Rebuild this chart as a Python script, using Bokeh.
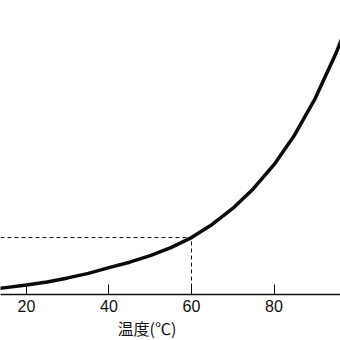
from bokeh.plotting import figure
from bokeh.models import Range1d, FixedTicker, Title
from bokeh.embed import file_html
from bokeh.resources import INLINE

# Data (temperature in °C, pressure in kPa)
temperature = [12, 15, 20, 25, 30, 35, 40, 45, 50, 55, 60, 65, 70, 75, 80, 85, 90, 95, 98]
pressure = [1.9, 2.4, 3.3, 4.4, 5.8, 7.4, 9.4, 11.3, 13.6, 16.4, 19.9, 24.5, 30.1, 37.0, 45.4, 55.8, 68.6, 84.3, 95.0]
x_ticks = [20, 40, 60, 80]
marker_temp = 60
marker_pressure = 19.9
x_label = "温度(℃)"

p = figure(width=340, height=340, output_backend="svg", toolbar_location=None,
           x_range=Range1d(13.70, 96.12), y_range=Range1d(0, 102.8),
           min_border_left=0, min_border_right=0, min_border_top=0, min_border_bottom=46)
p.background_fill_color = "white"
p.border_fill_color = "white"
p.outline_line_color = None
p.xgrid.visible = False
p.ygrid.visible = False
p.yaxis.visible = False

ax = p.xaxis[0]
ax.ticker = FixedTicker(ticks=x_ticks)
ax.axis_line_color = "#111111"
ax.axis_line_width = 1.5
ax.major_tick_in = 10
ax.major_tick_out = 0
ax.major_tick_line_color = "#111111"
ax.major_tick_line_width = 1
ax.minor_tick_line_color = None
ax.major_label_text_font = "Liberation Sans"
ax.major_label_text_font_size = "16px"
ax.major_label_text_color = "#111111"
ax.major_label_standoff = 5

# dashed guide lines
p.line([temperature[0], marker_temp], [marker_pressure, marker_pressure],
       line_color="#111111", line_width=1, line_dash="4 3")
p.line([marker_temp, marker_temp], [0, marker_pressure],
       line_color="#111111", line_width=1, line_dash="4 3")

# curve
p.line(temperature, pressure, line_color="#0a0a0a", line_width=3.5, line_join="round")

t = Title(text=x_label, align="left", offset=117, text_font="Noto Sans CJK JP",
          text_font_size="16px", text_font_style="normal", text_color="#111111",
          standoff=-1)
p.add_layout(t, "below")

open("out.html", "w").write(file_html(p, INLINE))
